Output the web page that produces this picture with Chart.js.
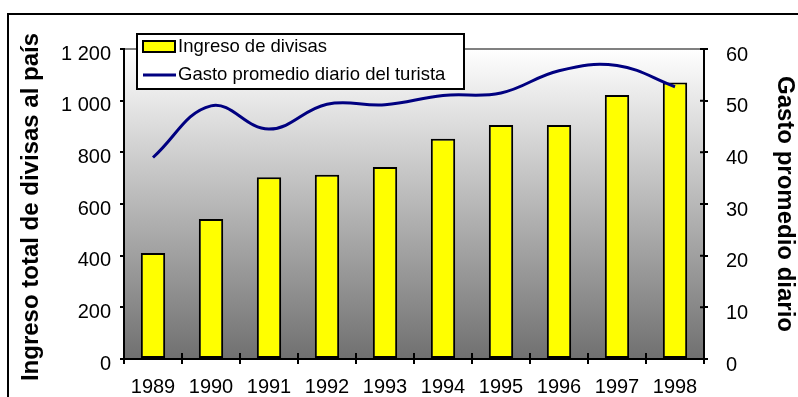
<!DOCTYPE html>
<html>
<head>
<meta charset="utf-8">
<script src="https://cdn.jsdelivr.net/npm/chart.js@4.4.0/dist/chart.umd.min.js"></script>
<style>
    html, body { margin: 0; padding: 0; background: #fff; }
</style>
</head>
<body>
<canvas id="grafico" width="798" height="397"></canvas>
<script>
// Datos
var anios = ['1989', '1990', '1991', '1992', '1993', '1994', '1995', '1996', '1997', '1998'];
var ingresoDivisas = [410, 542, 704, 713, 743, 853, 906, 906, 1022, 1070];
var gastoDiario = [39.0, 49.0, 44.5, 49.3, 49.2, 51.0, 51.5, 55.8, 56.8, 52.7];
var ticksIzq = ['0', '200', '400', '600', '800', '1 000', '1 200'];
var ticksDer = ['0', '10', '20', '30', '40', '50', '60'];

var fuente = '"Liberation Sans", Arial, sans-serif';

// Fondo degradado, marco, leyenda y titulos de ejes
var decoracion = {
    id: 'decoracion',
    beforeDraw: function(chart) {
        var ctx = chart.ctx;
        var a = chart.chartArea;
        ctx.save();
        ctx.fillStyle = '#fff';
        ctx.fillRect(0, 0, chart.width, chart.height);

        var grad = ctx.createLinearGradient(0, a.top, 0, a.bottom);
        grad.addColorStop(0, '#ffffff');
        grad.addColorStop(1, '#707070');
        ctx.fillStyle = grad;
        ctx.fillRect(a.left, a.top, a.right - a.left, a.bottom - a.top);

        // marco exterior
        ctx.strokeStyle = '#000';
        ctx.lineWidth = 2;
        ctx.strokeRect(8, 14, chart.width + 20, chart.height + 20);

        // linea superior del area
        ctx.strokeStyle = '#808080';
        ctx.lineWidth = 2;
        ctx.beginPath();
        ctx.moveTo(a.left, a.top);
        ctx.lineTo(a.right, a.top);
        ctx.stroke();
        ctx.restore();
    },
    afterDraw: function(chart) {
        var ctx = chart.ctx;
        var a = chart.chartArea;
        var yDer = chart.scales.yDer;
        ctx.save();

        // marcas hacia adentro
        ctx.strokeStyle = '#000';
        ctx.lineWidth = 2;
        ctx.beginPath();
        for (var i = 0; i <= anios.length; i++) {
            var px = a.left + (a.right - a.left) * i / anios.length;
            ctx.moveTo(px, a.bottom);
            ctx.lineTo(px, a.bottom - 6);
        }
        yDer.ticks.forEach(function(t) {
            var py = yDer.getPixelForValue(t.value);
            ctx.moveTo(a.right, py);
            ctx.lineTo(a.right - 4, py);
        });
        ctx.stroke();

        // leyenda
        var ds = chart.data.datasets;
        ctx.fillStyle = '#fff';
        ctx.fillRect(137, 34, 327, 55);
        ctx.strokeRect(137, 34, 327, 55);
        ctx.fillStyle = '#ffff00';
        ctx.fillRect(143, 41, 32, 11);
        ctx.strokeRect(143, 41, 32, 11);
        ctx.strokeStyle = '#000080';
        ctx.lineWidth = 3;
        ctx.beginPath();
        ctx.moveTo(143, 75);
        ctx.lineTo(176, 75);
        ctx.stroke();
        ctx.fillStyle = '#000';
        ctx.font = '18.5px ' + fuente;
        ctx.textBaseline = 'middle';
        ctx.textAlign = 'left';
        ctx.fillText(ds[1].label, 178, 47);
        ctx.fillText(ds[0].label, 178, 75);

        // titulos de ejes
        ctx.font = 'bold 24px ' + fuente;
        ctx.textAlign = 'center';
        ctx.save();
        ctx.translate(31, 207);
        ctx.rotate(-Math.PI / 2);
        ctx.fillText('Ingreso total de divisas al país', 0, 0);
        ctx.restore();
        ctx.save();
        ctx.translate(785, 204);
        ctx.rotate(Math.PI / 2);
        ctx.fillText('Gasto promedio diario', 0, 0);
        ctx.restore();

        ctx.restore();
    }
};

var ctx = document.getElementById('grafico').getContext('2d');
new Chart(ctx, {
    type: 'bar',
    data: {
        labels: anios,
        datasets: [{
            type: 'line',
            label: 'Gasto promedio diario del turista',
            data: gastoDiario,
            yAxisID: 'yDer',
            borderColor: '#000080',
            borderWidth: 3,
            pointRadius: 0,
            tension: 0.4,
            fill: false,
            order: 0
        }, {
            type: 'bar',
            label: 'Ingreso de divisas',
            data: ingresoDivisas,
            yAxisID: 'yIzq',
            backgroundColor: '#ffff00',
            borderColor: '#000',
            borderWidth: 2,
            borderSkipped: false,
            categoryPercentage: 1,
            barPercentage: 0.42,
            order: 1
        }]
    },
    options: {
        responsive: false,
        animation: false,
        devicePixelRatio: 1,
        layout: { padding: { top: 49, left: 0, right: 0, bottom: 0 } },
        plugins: {
            legend: { display: false },
            tooltip: { enabled: false }
        },
        scales: {
            x: {
                grid: { offset: true, drawOnChartArea: false, color: '#000', lineWidth: 2, tickLength: 5 },
                border: { color: '#000', width: 2 },
                ticks: { color: '#000', font: { family: fuente, size: 20 }, padding: 11, maxRotation: 0 },
                afterFit: function(s) { s.height = 38; }
            },
            yIzq: {
                position: 'left',
                min: 0,
                max: 1200,
                ticks: {
                    stepSize: 200,
                    color: '#000',
                    font: { family: fuente, size: 20 },
                    padding: 9,
                    labelOffset: 5,
                    callback: function(v, i) { return ticksIzq[i]; }
                },
                grid: { drawOnChartArea: false, color: '#000', lineWidth: 2, tickLength: 4 },
                border: { color: '#000', width: 2 },
                afterFit: function(s) { s.width = 124; }
            },
            yDer: {
                position: 'right',
                min: 0,
                max: 60,
                ticks: {
                    stepSize: 10,
                    color: '#000',
                    font: { family: fuente, size: 20 },
                    padding: 18,
                    labelOffset: 6,
                    callback: function(v, i) { return ticksDer[i]; }
                },
                grid: { drawOnChartArea: false, color: '#000', lineWidth: 2, tickLength: 4 },
                border: { color: '#000', width: 2 },
                afterFit: function(s) { s.width = 94; }
            }
        }
    },
    plugins: [decoracion]
});
</script>
</body>
</html>
